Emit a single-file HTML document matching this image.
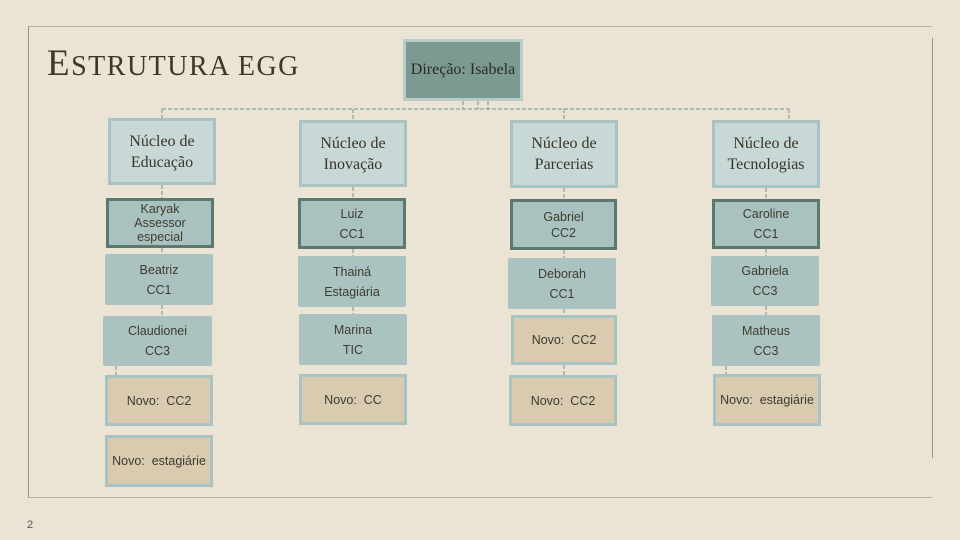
<!DOCTYPE html>
<html><head><meta charset="utf-8"><style>
body{margin:0;width:960px;height:540px;overflow:hidden;background:#ebe3d4;position:relative;font-family:"Liberation Sans",sans-serif}
.b{position:absolute;box-sizing:border-box;display:flex;align-items:center;justify-content:center;text-align:center;color:#3f3a30;font-size:12.5px;line-height:20px}
.n{background:#c8d8d6;border:3px solid #a8c4c2;font-family:"Liberation Serif",serif;font-size:16px;line-height:21px;color:#3a3428}
.d{background:#a9c2bf;border:3px solid #5a7a70}
.p{background:#abc3c0;border-radius:2px}
.t{background:#d8cbb0;border:3px solid #a8c4c2}
.l{position:absolute}
</style></head><body>
<div class="l" style="left:28px;top:26px;width:904px;height:1px;background:#b8b0a2"></div>
<div class="l" style="left:28px;top:497px;width:904px;height:1px;background:#b8b0a2"></div>
<div class="l" style="left:28px;top:26px;width:1px;height:472px;background:#9a9488"></div>
<div class="l" style="left:932px;top:38px;width:1px;height:420px;background:#9a9488"></div>
<div style="position:absolute;left:47px;top:42px;font-family:'Liberation Serif',serif;font-size:37px;color:#3e3628;letter-spacing:1.5px">E<span style="font-size:28px">STRUTURA EGG</span></div>
<div style="position:absolute;left:27px;top:519px;font-size:11px;color:#555">2</div>
<svg style="position:absolute;left:0;top:0" width="960" height="540">
<g stroke="#6a9a96" stroke-width="1" stroke-dasharray="4,2" fill="none">
<path d="M162 109H789M162 109V118M353 109V120M564 109V120M789 109V120M463 101V109M478 101V109M488 101V109"/>
<path d="M162 185V198M162 248V254M162 305V316M353 187V198M353 249V256M353 307V314M564 188V199M564 250V258M564 309V315M766 188V199M766 249V256M766 306V315M116 366V375M726 366V374M564 365V375"/>
</g></svg>
<div class="b" style="left:403px;top:39px;width:120px;height:62px;background:#7a9a92;border:3px solid #b8ccc8;font-family:'Liberation Serif',serif;font-size:16px;color:#2e2a22">Direção: Isabela</div>
<div class="b n" style="left:108px;top:118px;width:108px;height:67px">Núcleo de<br>Educação</div>
<div class="b n" style="left:299px;top:120px;width:108px;height:67px">Núcleo de<br>Inovação</div>
<div class="b n" style="left:510px;top:120px;width:108px;height:68px">Núcleo de<br>Parcerias</div>
<div class="b n" style="left:712px;top:120px;width:108px;height:68px">Núcleo de<br>Tecnologias</div>
<div class="b d" style="left:106px;top:198px;width:108px;height:50px;line-height:14px">Karyak<br>Assessor<br>especial</div>
<div class="b d" style="left:298px;top:198px;width:108px;height:51px">Luiz<br>CC1</div>
<div class="b d" style="left:510px;top:199px;width:107px;height:51px;line-height:16px">Gabriel<br>CC2</div>
<div class="b d" style="left:712px;top:199px;width:108px;height:50px">Caroline<br>CC1</div>
<div class="b p" style="left:105px;top:254px;width:108px;height:51px">Beatriz<br>CC1</div>
<div class="b p" style="left:298px;top:256px;width:108px;height:51px">Thainá<br>Estagiária</div>
<div class="b p" style="left:508px;top:258px;width:108px;height:51px">Deborah<br>CC1</div>
<div class="b p" style="left:711px;top:256px;width:108px;height:50px">Gabriela<br>CC3</div>
<div class="b p" style="left:103px;top:316px;width:109px;height:50px">Claudionei<br>CC3</div>
<div class="b p" style="left:299px;top:314px;width:108px;height:51px">Marina<br>TIC</div>
<div class="b t" style="left:511px;top:315px;width:106px;height:50px">Novo:&nbsp; CC2</div>
<div class="b p" style="left:712px;top:315px;width:108px;height:51px">Matheus<br>CC3</div>
<div class="b t" style="left:105px;top:375px;width:108px;height:51px">Novo:&nbsp; CC2</div>
<div class="b t" style="left:299px;top:374px;width:108px;height:51px">Novo:&nbsp; CC</div>
<div class="b t" style="left:509px;top:375px;width:108px;height:51px">Novo:&nbsp; CC2</div>
<div class="b t" style="left:713px;top:374px;width:108px;height:52px">Novo:&nbsp; estagiárie</div>
<div class="b t" style="left:105px;top:435px;width:108px;height:52px">Novo:&nbsp; estagiárie</div>
</body></html>
